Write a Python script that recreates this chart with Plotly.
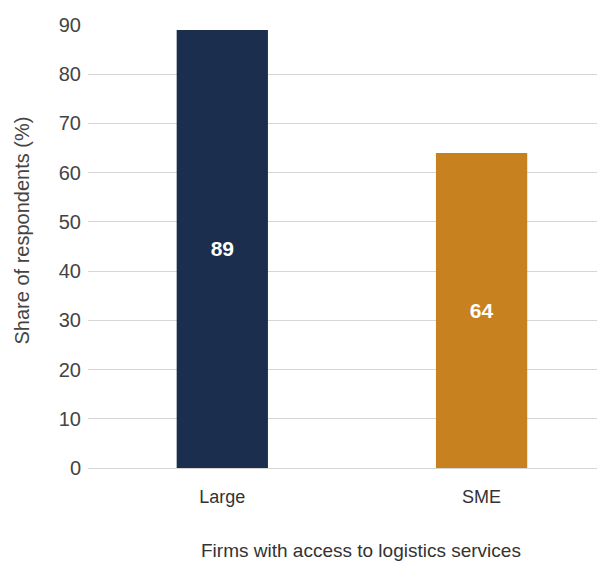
import plotly.graph_objects as go

categories = ["Large", "SME"]
values = [89, 64]
colors = ["#1b2e4d", "#c8811f"]
y_ticks = [0, 10, 20, 30, 40, 50, 60, 70, 80, 90]

fig = go.Figure(go.Bar(
    x=categories, y=values, marker_color=colors, marker_line_width=0, width=0.352,
    text=[str(v) for v in values], textposition="inside", insidetextanchor="middle",
    textfont=dict(family="Liberation Sans", size=21, color="white", weight="bold"),
    hoverinfo="skip",
))

fig.update_layout(
    width=597, height=553,
    margin=dict(l=80, r=0, t=17, b=93),
    plot_bgcolor="white", paper_bgcolor="white",
    font=dict(family="Liberation Sans", color="#444444"),
    showlegend=False,
    xaxis=dict(range=[-0.518, 1.476], showgrid=False, showline=False, zeroline=False,
               tickfont=dict(size=18, color="#333333"), ticklabelstandoff=16, ticks=""),
    yaxis=dict(range=[0, 90], tickvals=y_ticks, showgrid=True, gridcolor="#d6d6d6", gridwidth=1,
               zeroline=True, zerolinecolor="#d6d6d6", zerolinewidth=1,
               tickfont=dict(size=20, color="#444444"), ticklabelstandoff=6),
    annotations=[
        dict(text="Firms with access to logistics services", xref="paper", yref="paper",
             x=0.529, y=-0.186, showarrow=False, xanchor="center", yanchor="middle",
             font=dict(size=19, color="#333333")),
        dict(text="Share of respondents (%)", xref="paper", yref="paper", textangle=-90,
             x=-0.1277, y=0.536, showarrow=False, xanchor="center", yanchor="middle",
             font=dict(size=20, color="#444444")),
    ],
)

fig.write_html("out.html")
